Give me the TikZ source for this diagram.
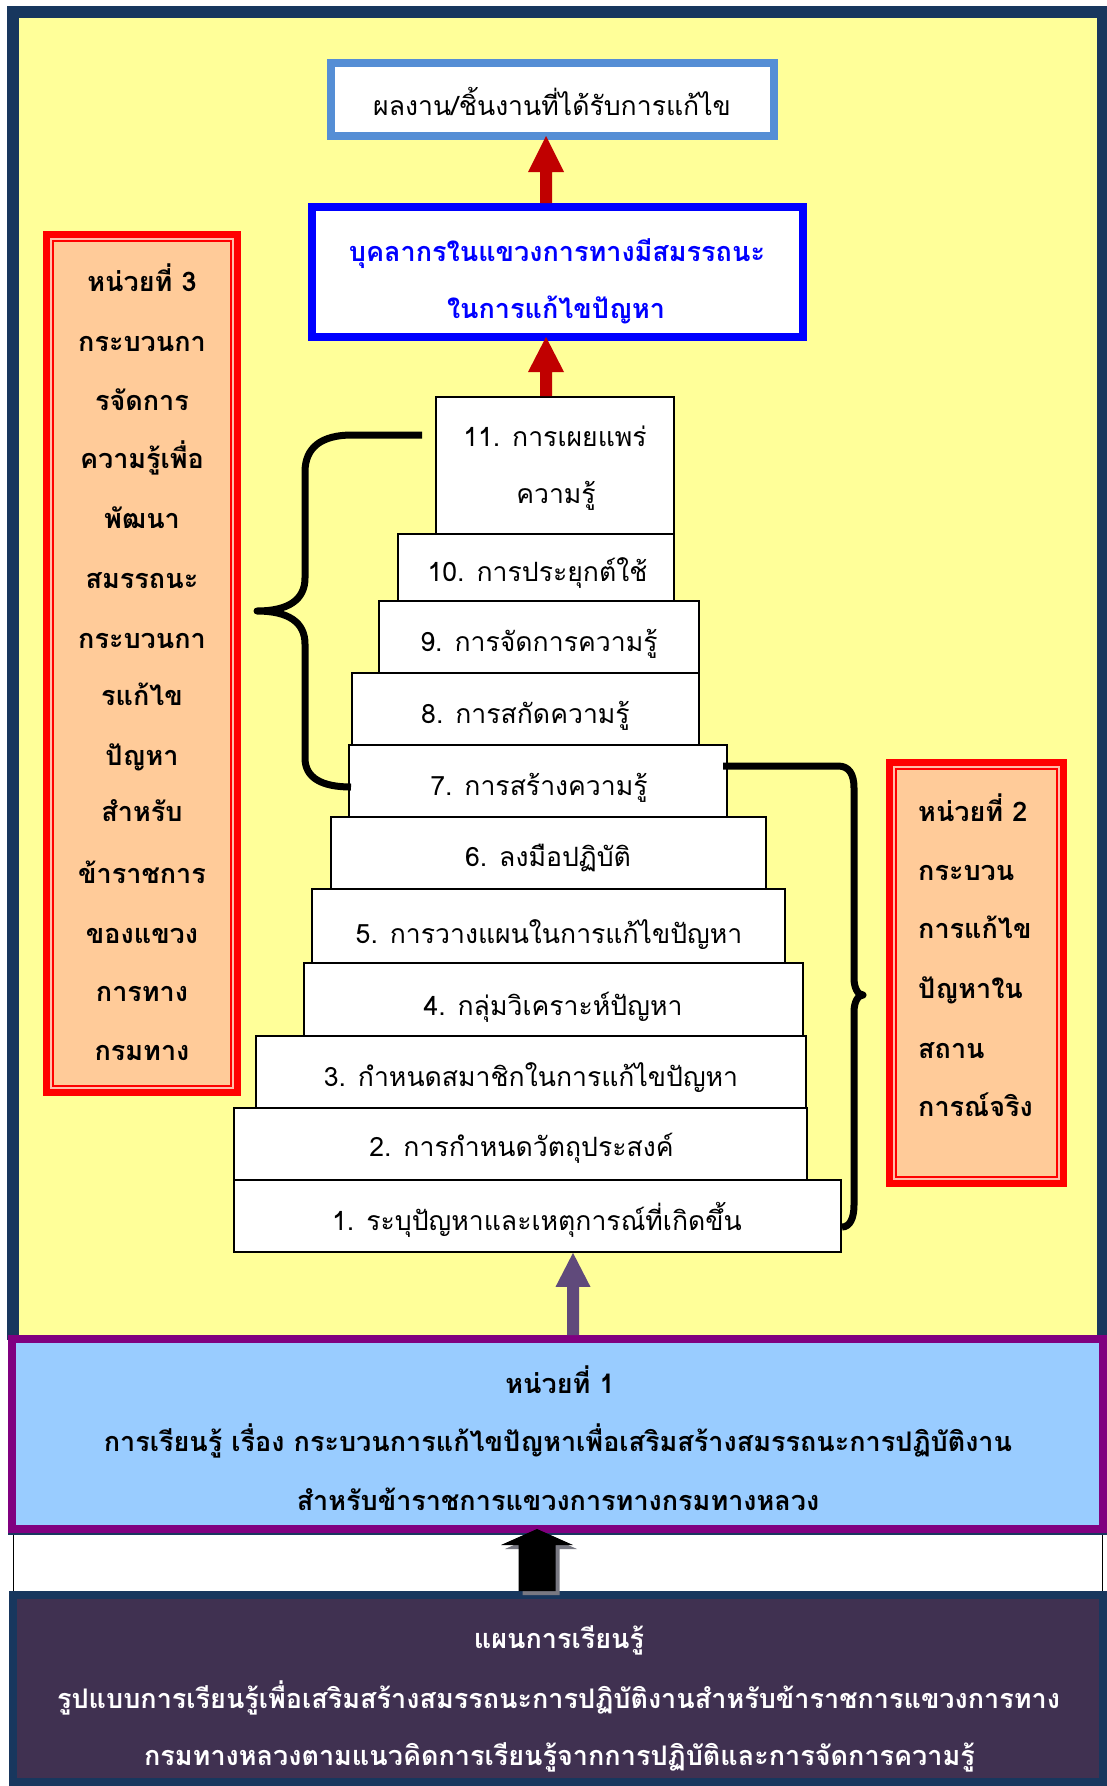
\documentclass[tikz,border=0pt]{standalone}
\usepackage{fontspec}
\setmainfont[Script=Thai]{Loma}
\usetikzlibrary{calc}

\definecolor{navyframe}{RGB}{24,55,94}
\definecolor{paleyellow}{RGB}{255,255,153}
\definecolor{steelblue}{RGB}{85,142,213}
\definecolor{darkred}{RGB}{192,0,0}
\definecolor{unitpurple}{RGB}{128,0,128}
\definecolor{skyfill}{RGB}{153,204,255}
\definecolor{plumfill}{RGB}{64,49,81}
\definecolor{peach}{RGB}{255,203,153}
\definecolor{pinkgap}{RGB}{255,190,170}
\definecolor{arrowplum}{RGB}{96,74,123}
\definecolor{shadowgray}{RGB}{120,120,130}

% vertical block arrow: colour, tail, tip, shaft half width, head half width, head length
\newcommand\uparrowblock[6]{%
  \fill[#1] ($(#2)+(-#4,0)$) -- ($(#3)+(-#4,#6)$) -- ($(#3)+(-#5,#6)$) -- (#3)
    -- ($(#3)+(#5,#6)$) -- ($(#3)+(#4,#6)$) -- ($(#2)+(#4,0)$) -- cycle;}

\begin{document}
\begin{tikzpicture}[x=1pt,y=-1pt,
  stepbox/.style={draw=black, line width=1.8pt, fill=white, inner sep=0pt},
  steptext/.style={anchor=mid, inner sep=0pt, yshift=-6pt, font=\fontsize{26.6}{30}\selectfont},
  boldtext/.style={anchor=mid, inner sep=0pt, yshift=-6pt, font=\bfseries\fontsize{27}{30}\selectfont},
  unitbox/.style={draw=red, line width=7pt, fill=peach, inner sep=0pt},
  bracepath/.style={line width=7pt, line join=round}
]
\useasboundingbox (0,0) rectangle (1107,1786);
\fill[white] (0,0) rectangle (1107,1786);

% outer frame and yellow field
\fill[navyframe] (7,6) rectangle (1107,1340);
\fill[paleyellow] (19,18) rectangle (1097,1335);

% result and competence boxes
\node[draw=steelblue, line width=8pt, fill=white, inner sep=0pt,
      minimum width=443pt, minimum height=73pt] (result) at (552.5,99.5) {};
\node[steptext] (resulttext) at (552,107) {ผลงาน/ชิ้นงานที่ได้รับการแก้ไข};

\node[draw=blue, line width=8pt, fill=white, inner sep=0pt,
      minimum width=491pt, minimum height=130pt] (competent) at (557.5,272) {};
\node[boldtext, text=blue] (comp1) at (557,253) {บุคลากรในแขวงการทางมีสมรรถนะ};
\node[boldtext, text=blue] (comp2) at (556,310) {ในการแก้ไขปัญหา};

% staircase of steps
\foreach \nm/\cx/\cy/\w/\h in {
  s11/555/465.5/238/137, s10/536/567.5/276/67, s9/539/637/320/72,
  s8/525.5/709/347/72, s7/538/781/378/72, s6/548.5/853/435/72,
  s5/548.5/926/473/74, s4/553.5/999.5/499/73, s3/531/1072/550/72,
  s2/520.5/1144/573/72, s1/537.5/1216/607/72}
  \node[stepbox, minimum width=\w pt, minimum height=\h pt] (\nm) at (\cx,\cy) {};

\node[steptext] (t11a) at (555,438) {11. การเผยแพร่};
\node[steptext] (t11b) at (556,495) {ความรู้};
\node[steptext] (t10) at (537.5,573) {10. การประยุกต์ใช้};
\node[steptext] (t9) at (539,643) {9. การจัดการความรู้};
\node[steptext] (t8) at (525.5,715) {8. การสกัดความรู้};
\node[steptext] (t7) at (539,787) {7. การสร้างความรู้};
\node[steptext] (t6) at (548,858) {6. ลงมือปฏิบัติ};
\node[steptext] (t5) at (549,935) {5. การวางแผนในการแก้ไขปัญหา};
\node[steptext] (t4) at (553,1007) {4. กลุ่มวิเคราะห์ปัญหา};
\node[steptext] (t3) at (531,1078) {3. กำหนดสมาชิกในการแก้ไขปัญหา};
\node[steptext] (t2) at (521.5,1148) {2. การกำหนดวัตถุประสงค์};
\node[steptext] (t1) at (537,1222) {1. ระบุปัญหาและเหตุการณ์ที่เกิดขึ้น};

% arrows between the boxes
\coordinate (axisA) at (546,0);
\coordinate (axisC) at (573,0);
\uparrowblock{darkred}{competent.north -| axisA}{$(result.south -| axisA)+(0,-4)$}{6}{18}{36}
\uparrowblock{darkred}{s11.north -| axisA}{$(competent.south -| axisA)+(0,-4)$}{6}{18}{35}

% unit 3 box (left)
\node[unitbox, minimum width=191pt, minimum height=858pt] (unit3) at (142,663.5) {};
\draw[pinkgap, line width=2pt] ($(unit3.north west)+(8,8)$) rectangle ($(unit3.south east)+(-8,-8)$);
\draw[red, line width=2pt] ($(unit3.north west)+(10,10)$) rectangle ($(unit3.south east)+(-10,-10)$);
\foreach \txt/\yy [count=\i] in {หน่วยที่ 3/283, กระบวนกา/343, รจัดการ/402,
  ความรู้เพื่อ/460, พัฒนา/520, สมรรถนะ/580, กระบวนกา/640, รแก้ไข/697,
  ปัญหา/757, สำหรับ/813, ข้าราชการ/875, ของแขวง/935, การทาง/993, กรมทาง/1052}
  \node[boldtext] (u3l\i) at (142,\yy) {\txt};

% unit 2 box (right)
\node[unitbox, minimum width=174pt, minimum height=421pt] (unit2) at (976.5,973) {};
\draw[pinkgap, line width=2pt] ($(unit2.north west)+(8,8)$) rectangle ($(unit2.south east)+(-8,-8)$);
\draw[red, line width=2pt] ($(unit2.north west)+(10,10)$) rectangle ($(unit2.south east)+(-10,-10)$);
\foreach \txt/\yy [count=\i] in {หน่วยที่ 2/813, กระบวน/872, การแก้ไข/930,
  ปัญหาใน/990, สถาน/1050, การณ์จริง/1108}
  \node[boldtext, anchor=mid west] (u2l\i) at (918,\yy) {\txt};

% braces grouping the steps
\coordinate (lbTop) at (422,435);
\coordinate (lbBot) at (351,787);
\draw[bracepath] (lbTop) -- (352,435) .. controls (322,435) and (305,447) .. (305,472)
  -- (305,578) .. controls (305,600) and (288,611) .. (257,611)
  .. controls (288,611) and (305,622) .. (305,644)
  -- (305,758) .. controls (305,778) and (322,787) .. (lbBot);
\coordinate (rbTop) at (723,766);
\coordinate (rbBot) at (842,1227);
\draw[bracepath] (rbTop) -- (838,766) .. controls (849,766) and (854,774) .. (854,788)
  -- (854,978) .. controls (854,988) and (858,995) .. (863,995)
  .. controls (858,995) and (854,1002) .. (854,1012)
  -- (854,1205) .. controls (854,1218) and (850,1227) .. (rbBot);

% unit 1 band
\node[draw=unitpurple, line width=8pt, fill=skyfill, inner sep=0pt,
      minimum width=1091pt, minimum height=190pt] (unit1) at (557.5,1434) {};
\fill[navyframe] (8,1533) rectangle (1107,1535);
\node[boldtext] (u1a) at (560,1385) {หน่วยที่ 1};
\node[boldtext] (u1b) at (558,1443) {การเรียนรู้ เรื่อง กระบวนการแก้ไขปัญหาเพื่อเสริมสร้างสมรรถนะการปฏิบัติงาน};
\node[boldtext] (u1c) at (558,1502) {สำหรับข้าราชการแขวงการทางกรมทางหลวง};
\uparrowblock{arrowplum}{unit1.north -| axisC}{s1.south -| axisC}{6}{17.5}{34}

% white strip edges
\draw[line width=1pt] (13,1535) -- (13,1591);
\draw[line width=1pt] (1102,1535) -- (1102,1591);

% learning plan band
\node[draw=navyframe, line width=8pt, fill=plumfill, inner sep=0pt,
      minimum width=1090pt, minimum height=187pt] (plan) at (558,1688.5) {};
\node[boldtext, text=white] (p1) at (559,1640) {แผนการเรียนรู้};
\node[boldtext, text=white] (p2) at (558.5,1700) {รูปแบบการเรียนรู้เพื่อเสริมสร้างสมรรถนะการปฏิบัติงานสำหรับข้าราชการแขวงการทาง};
\node[boldtext, text=white] (p3) at (559.5,1757) {กรมทางหลวงตามแนวคิดการเรียนรู้จากการปฏิบัติและการจัดการความรู้};

% black arrow with its drop shadow
\coordinate (axisB) at (537,0);
\coordinate (axisBs) at (541,0);
\uparrowblock{shadowgray}{$(plan.north -| axisBs)+(0,4)$}{$(unit1.south -| axisBs)+(0,0)$}{18.5}{36}{16}
\uparrowblock{black}{plan.north -| axisB}{$(unit1.south -| axisB)+(0,-4)$}{18.5}{36}{16}
\end{tikzpicture}
\end{document}
